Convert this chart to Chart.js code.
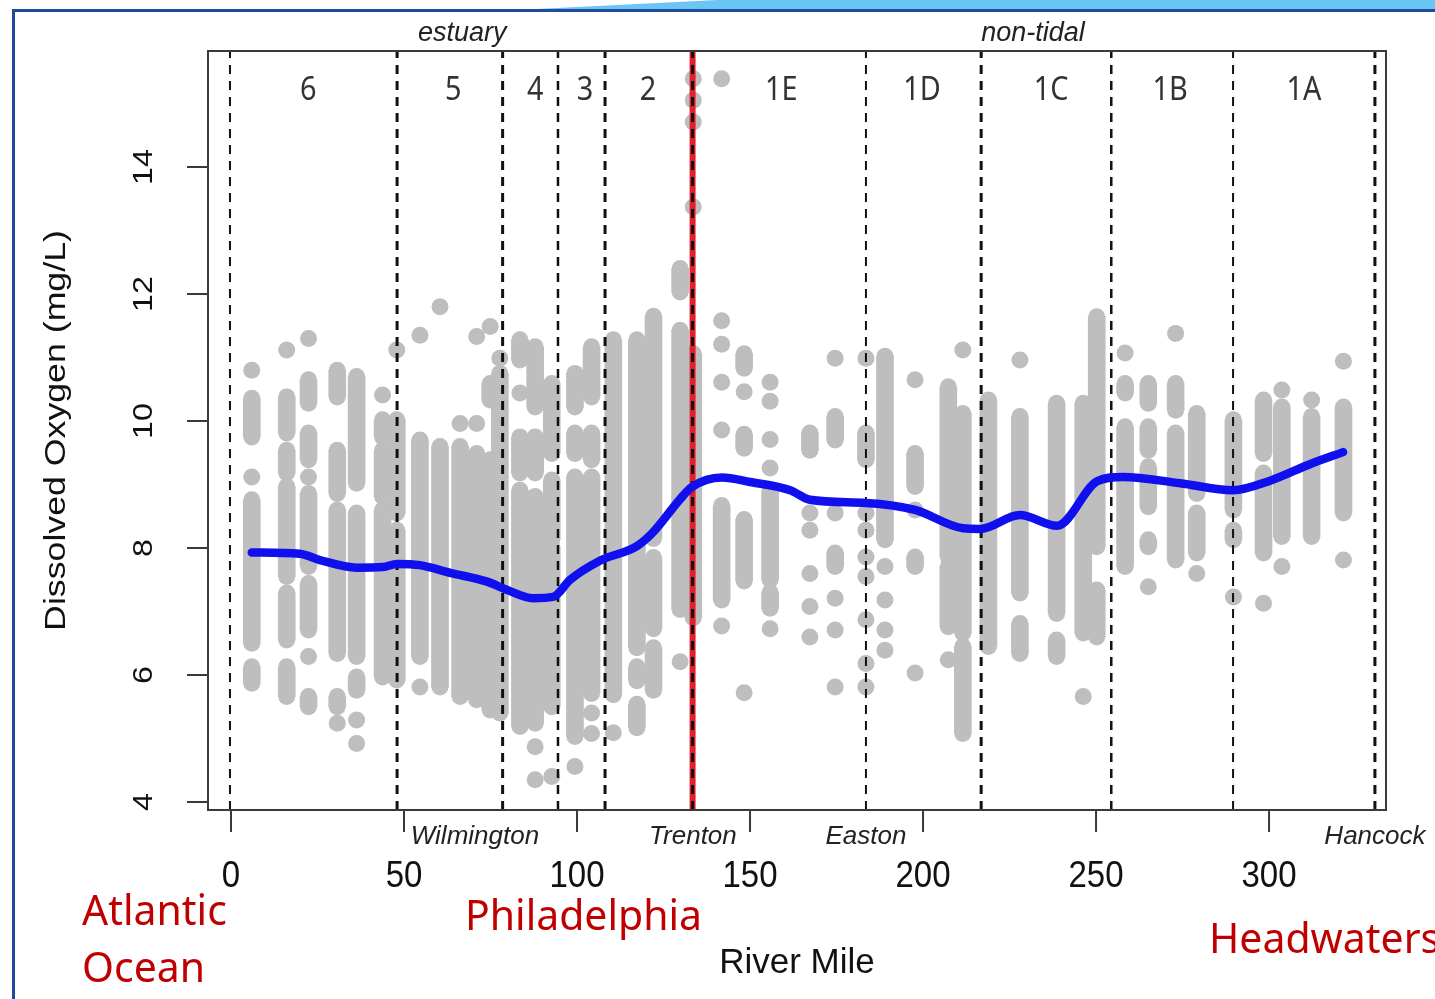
<!DOCTYPE html>
<html>
<head>
<meta charset="utf-8">
<script src="https://cdn.jsdelivr.net/npm/chart.js@4.4.1/dist/chart.umd.min.js"></script>
<style>
  html, body { margin: 0; padding: 0; background: #fff; }
  body { width: 1435px; height: 999px; position: relative; overflow: hidden; }
  #band { position: absolute; left: 0; top: 0; width: 1435px; height: 10px; background: #6cc6f5;
          clip-path: polygon(36% 100%, 50% 0, 100% 0, 100% 100%); }
  #frameTop { position: absolute; left: 12px; top: 9px; width: 1423px; height: 3px; background: #1f4b99; }
  #frameLeft { position: absolute; left: 12px; top: 9px; width: 3px; height: 990px; background: #1f4b99; }
  #chart { position: absolute; left: 0; top: 0; }
</style>
</head>
<body>
<div id="band"></div>
<div id="frameTop"></div>
<div id="frameLeft"></div>
<canvas id="chart" width="1435" height="999"></canvas>
<script>
// River mile of each sampling column
const colMiles = [6.0, 16.1, 22.4, 30.7, 36.3, 43.8, 47.9, 54.6, 60.4, 66.2, 71.0, 74.9, 77.7, 83.5,
  87.9, 92.7, 99.4, 104.2, 110.5, 117.3, 122.1, 129.8, 133.6, 141.8, 148.3, 155.8, 167.3, 174.6,
  183.5, 189.0, 197.7, 207.3, 211.5, 218.9, 228.0, 238.6, 246.3, 250.2, 258.4, 265.1, 273.0,
  279.1, 289.7, 298.4, 303.7, 312.3, 321.5];

// DO readings in each column: a number is one dot, a pair is a run of overlapping dots [low, high]
const colRuns = [
  [10.8, [9.75, 10.36], 9.12, [6.5, 8.76], [5.87, 6.13]],
  [11.12, [9.81, 10.38], [9.18, 9.54], [7.55, 8.97], [6.55, 7.29], [5.66, 6.13]],
  [11.3, [10.28, 10.65], [9.39, 9.81], 9.12, [7.71, 8.86], [6.71, 7.44], 6.29, [5.5, 5.66]],
  [[10.38, 10.8], [8.86, 9.54], [6.34, 8.6], [5.5, 5.66], 5.24],
  [[9.02, 10.7], [6.29, 8.55], [5.76, 5.97], 5.29, 4.92],
  [10.41, [9.75, 10.02], [8.81, 9.54], [5.97, 8.6]],
  [11.12, [8.55, 10.02], [5.92, 8.28]],
  [11.35, [6.29, 9.7], 5.81],
  [11.8, [5.81, 9.6]],
  [9.96, [5.66, 9.6]],
  [11.33, 9.96, [5.61, 9.49]],
  [11.49, [10.33, 10.59], [5.45, 9.39]],
  [10.99, [5.4, 10.75]],
  [[10.96, 11.28], 10.44, [9.18, 9.75], [5.19, 8.91]],
  [[10.22, 11.17], [9.18, 9.75], [5.24, 8.81], 4.87, 4.35],
  [[9.49, 10.59], [8.13, 9.07], [5.5, 8.02], 4.4],
  [[10.22, 10.75], [9.49, 9.81], [5.03, 9.12], 4.56],
  [[10.38, 11.17], [9.39, 9.81], [5.71, 9.12], 5.4, 5.08],
  [[5.69, 11.28], 5.09],
  [[6.43, 11.28], [5.91, 6.13], [5.17, 5.54]],
  [[8.15, 11.65], [6.73, 7.85], [5.76, 6.43]],
  [[12.03, 12.4], [7.03, 11.43], 6.21],
  [15.39, 15.05, 14.71, 13.37, [6.9, 11.06]],
  [15.39, 11.58, 11.21, 10.61, 9.86, [7.18, 8.67], 6.77],
  [[10.83, 11.06], 10.46, [9.57, 9.79], [7.48, 8.45], 5.72],
  [10.61, 10.31, 9.71, 9.26, [7.5, 8.9], [7.05, 7.3], 6.73],
  [[9.54, 9.81], 8.55, 8.28, 7.6, 7.08, 6.6],
  [10.99, [9.7, 10.07], 8.55, [7.71, 7.92], 7.21, 6.71, 5.81],
  [10.99, [9.39, 9.81], 8.55, 8.28, 7.86, 7.55, 6.87, 6.18, 5.81],
  [[8.13, 11.02], 7.71, 7.18, 6.71, 6.39],
  [10.65, [8.97, 9.49], 8.6, [7.71, 7.86], 6.03],
  [[7.86, 10.54], [6.76, 7.71], 6.24],
  [11.12, [6.66, 10.12], [5.08, 6.45]],
  [[6.45, 10.33]],
  [10.96, [7.29, 10.07], [6.34, 6.81]],
  [[6.97, 10.28], [6.29, 6.55]],
  [[6.66, 10.28], 5.66],
  [[8.02, 11.64], [6.6, 7.34]],
  [11.07, [10.44, 10.59], [7.71, 9.91]],
  [[10.28, 10.59], [9.54, 9.91], [8.65, 9.28], [8.02, 8.13], 7.39],
  [11.38, [10.17, 10.59], [7.81, 9.81]],
  [[8.86, 10.12], [7.92, 8.55], 7.6],
  [[8.6, 10.02], [8.13, 8.28], 7.23],
  [[9.49, 10.33], [7.92, 9.18], 7.13],
  [10.49, [8.18, 10.22], 7.71],
  [10.33, [8.18, 10.07]],
  [10.94, [8.55, 10.22], 7.81]
];

// smoothed trend line
const lineMiles = [6.0, 19.9, 25.7, 36.4, 43.9, 48.0, 54.6, 63.3, 74.0, 79.8, 87.3, 93.1, 98.0, 106.6,
  117.3, 122.0, 129.8, 133.2, 141.9, 150.0, 161.6, 167.3, 183.5, 197.7, 211.6, 216.5, 228.0, 238.7,
  250.3, 257.8, 274.3, 289.6, 300.3, 311.8, 321.4];
const lineDO = [7.93, 7.91, 7.81, 7.69, 7.70, 7.75, 7.73, 7.61, 7.47, 7.34, 7.21, 7.23, 7.50, 7.80,
  8.03, 8.25, 8.77, 8.96, 9.11, 9.04, 8.91, 8.76, 8.71, 8.60, 8.31, 8.30, 8.52, 8.35,
  9.05, 9.12, 9.02, 8.91, 9.06, 9.32, 9.51];

// zones
const zoneBounds = [-0.3, 48.0, 78.5, 94.5, 108.1, 133.4, 183.5, 216.8, 254.4, 289.6, 330.6];
const zoneLineW = [2, 3, 3, 2.5, 3, 3, 2, 3, 2.5, 2, 3];
const zoneNames = ["6", "5", "4", "3", "2", "1E", "1D", "1C", "1B", "1A"];
const zoneNameMiles = [22.3, 64.2, 87.9, 102.3, 120.5, 159, 199.7, 237, 271.4, 310.1];
const regionNames = ["estuary", "non-tidal"];
const regionMiles = [66.8, 231.8];
const placeNames = ["Wilmington", "Trenton", "Easton", "Hancock"];
const placeMiles = [70.5, 133.5, 183.5, 330.6];
const tidalLimit = 133.4;

const xTicks = [0, 50, 100, 150, 200, 250, 300];
const yTicks = [4, 6, 8, 10, 12, 14];

const X_MIN = -6.65, X_MAX = 333.8, Y_MIN = 3.874, Y_MAX = 15.827;
const GRAY = "#bebebe";

// split runs into capsule bodies (floating bars) and end dots
const runBars = [];
const dots = [];
colMiles.forEach((m, i) => {
    colRuns[i].forEach(r => {
        const lo = Array.isArray(r) ? r[0] : r;
        const hi = Array.isArray(r) ? r[1] : r;
        dots.push({x: m, y: lo});
        if (hi > lo) {
            dots.push({x: m, y: hi});
            runBars.push({x: m, y: [lo, hi]});
        }
    });
});

function vLine(m, color, width, dash, order) {
    return {
        type: "line",
        data: [{x: m, y: Y_MIN}, {x: m, y: Y_MAX}],
        borderColor: color,
        borderWidth: width,
        borderDash: dash,
        pointRadius: 0,
        order: order
    };
}

function txt(ctx, s, px, py, font, color, sx, sy, rot, align) {
    ctx.save();
    ctx.translate(px, py);
    ctx.scale(sx, sy);
    if (rot) ctx.rotate(rot);
    ctx.font = font;
    ctx.fillStyle = color;
    ctx.textAlign = align || "center";
    ctx.textBaseline = align ? "alphabetic" : "middle";
    ctx.fillText(s, 0, 0);
    ctx.restore();
}

// R-style box, ticks and all the labels
const axesPlugin = {
    id: "rAxes",
    afterDraw(chart) {
        const {ctx, chartArea: a} = chart;
        const x = chart.scales.x, y = chart.scales.y;
        const F = '"Liberation Sans", Arial, sans-serif';
        ctx.save();
        ctx.strokeStyle = "#3a3a3a";
        ctx.lineWidth = 2;
        ctx.strokeRect(a.left, a.top, a.right - a.left, a.bottom - a.top);
        ctx.beginPath();
        xTicks.forEach(v => {
            const px = x.getPixelForValue(v);
            ctx.moveTo(px, a.bottom);
            ctx.lineTo(px, a.bottom + 22);
        });
        yTicks.forEach(v => {
            const py = y.getPixelForValue(v);
            ctx.moveTo(a.left, py);
            ctx.lineTo(a.left - 21, py);
        });
        ctx.stroke();
        ctx.restore();

        xTicks.forEach(v => txt(ctx, String(v), x.getPixelForValue(v), 877, "33px " + F, "#111", 1, 1.1));
        yTicks.forEach(v => txt(ctx, String(v), 144, y.getPixelForValue(v), "28px " + F, "#111", 1, 1.15, -Math.PI / 2));
        txt(ctx, "Dissolved Oxygen (mg/L)", 57, (a.top + a.bottom) / 2, "30px " + F, "#111", 1, 1.19, -Math.PI / 2);
        txt(ctx, "River Mile", (a.left + a.right) / 2, 963, "35px " + F, "#111", 1, 1);

        regionNames.forEach((s, i) => txt(ctx, s, x.getPixelForValue(regionMiles[i]), 33, "italic 27px " + F, "#222", 1, 1));
        zoneNames.forEach((s, i) => txt(ctx, s, x.getPixelForValue(zoneNameMiles[i]), 91, '32px "Noto Sans", sans-serif', "#333", 0.9, 1));
        placeNames.forEach((s, i) => txt(ctx, s, x.getPixelForValue(placeMiles[i]), 837, "italic 26px " + F, "#222", 1, 1));

        const RF = '42px "Noto Sans", sans-serif';
        txt(ctx, "Atlantic", 82, 925, RF, "#c00000", 0.975, 1, 0, "left");
        txt(ctx, "Ocean", 82, 982, RF, "#c00000", 0.975, 1, 0, "left");
        txt(ctx, "Philadelphia", 465, 930, RF, "#c00000", 0.975, 1, 0, "left");
        txt(ctx, "Headwaters", 1209, 953, RF, "#c00000", 0.975, 1, 0, "left");
    }
};

const datasets = [
    {
        type: "line",
        data: lineMiles.map((m, i) => ({x: m, y: lineDO[i]})),
        borderColor: "#1010ee",
        borderWidth: 8.5,
        pointRadius: 0,
        cubicInterpolationMode: "monotone",
        borderCapStyle: "round",
        order: 0
    }
];
zoneBounds.forEach((b, i) => datasets.push(vLine(b, "#111", zoneLineW[i], [9, 7], 1)));
datasets.push(vLine(tidalLimit, "#e0202a", 6, [], 2));
datasets.push({type: "bar", data: runBars, backgroundColor: GRAY, barThickness: 17, order: 3});
datasets.push({type: "scatter", data: dots, backgroundColor: GRAY, pointRadius: 8.5, borderWidth: 0, order: 3});

new Chart(document.getElementById("chart"), {
    type: "scatter",
    data: {datasets: datasets},
    options: {
        responsive: false,
        animation: false,
        events: [],
        layout: {padding: {left: 208, right: 49, top: 51, bottom: 189}},
        scales: {
            x: {type: "linear", min: X_MIN, max: X_MAX, offset: false, display: false},
            y: {type: "linear", min: Y_MIN, max: Y_MAX, offset: false, display: false}
        },
        plugins: {legend: {display: false}, tooltip: {enabled: false}}
    },
    plugins: [axesPlugin]
});
</script>
</body>
</html>
